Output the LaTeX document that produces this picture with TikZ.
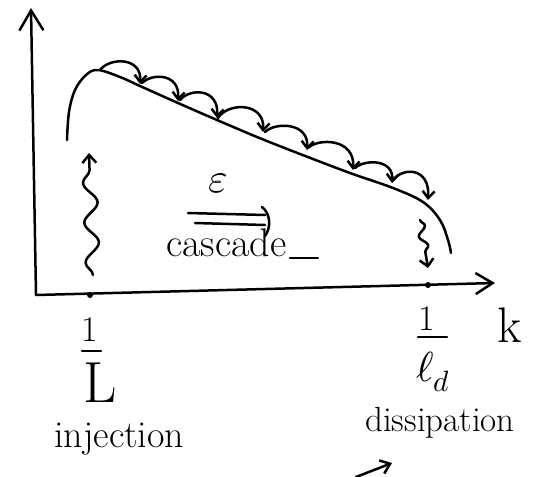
\documentclass[tikz,border=0pt]{standalone}
\usepackage{fontspec}
\usepackage{unicode-math}
\usetikzlibrary{arrows.meta,decorations.pathmorphing}
\begin{document}
\begin{tikzpicture}[x=1pt,y=-1pt,line width=2.5pt,line cap=round,line join=round,
  barb/.style={-{Straight Barb[length=7pt,width=12pt]}},
  bigbarb/.style={-{Straight Barb[length=20pt,width=24pt]}},
  txt/.style={font=\fontsize{38}{44}\selectfont,inner sep=0pt},
  lbl/.style={inner sep=0pt},
  tick/.style={circle,fill=black,inner sep=0pt,minimum size=6pt}]
\useasboundingbox (0,0) rectangle (534,476);
% axes
\coordinate (O) at (36,295);
\coordinate (Yt) at (31,8);
\coordinate (Xt) at (495,283);
\draw[bigbarb] (O) -- (Yt);
\draw[-{Straight Barb[length=17pt,width=21pt]}] (O) -- (Xt);
\node[tick] (t1) at (90,295) {};
\node[tick] (t2) at (428,285) {};
% spectrum curve
\draw plot[smooth,tension=0.6] coordinates {(67,140) (69,112) (75,90) (86,75) (98,70) (120,77) (140,86) (178,103) (217,120) (257,137) (300,154) (350,173) (393,188) (423,202) (440,220) (448,240) (451,253)};
% cascade hops
\foreach \ax/\ay/\bx/\by/\h in {100/70/140/84/57, 142/83/178/101/73, 180/100/217/118/88, 218/118/263/132/102, 265/132/307/150/122, 308/148/353/170/138, 355/168/392/183/159, 393/180/428/200/167}{
  \coordinate (a) at (\ax,\ay);
  \coordinate (b) at (\bx,\by);
  \draw[barb] (a) .. controls (\ax+10,\h) and (\bx+2,\h) .. (b);
}
% injection wavy arrow
\coordinate (i1) at (93,275);
\coordinate (i2) at (89,153);
\draw[-{Straight Barb[length=8pt,width=14pt]},decorate,decoration={snake,amplitude=7pt,segment length=40pt,post length=8pt}] (i1) -- (i2);
% dissipation wavy arrow
\coordinate (d1) at (420,220);
\coordinate (d2) at (428,268);
\draw[-{Straight Barb[length=7pt,width=14pt]},decorate,decoration={snake,amplitude=4pt,segment length=20pt,post length=7pt}] (d1) -- (d2);
% epsilon and double arrow
\node[lbl,font=\fontsize{42}{48}\selectfont] (eps) at (218,183) {$\varepsilon$};
\coordinate (e1) at (188,213); \coordinate (e2) at (265,215);
\coordinate (e3) at (195,223); \coordinate (e4) at (265,225);
\coordinate (h1) at (262,207); \coordinate (h2) at (265,236);
\draw (e1) -- (e2);
\draw (e3) -- (e4);
\draw (h1) .. controls (271,214) and (271,228) .. (h2);
% cascade label
\node[txt,anchor=base west,font=\fontsize{40}{46}\selectfont] (cas) at (165,256) {cascade};
\coordinate (c2) at (318,258);
\draw[line width=2pt] (cas.base east) ++(2,2) -- (c2);
% 1/L
\node[lbl,font=\fontsize{36}{40}\selectfont] (oneL) at (90,330) {1};
\coordinate (bL1) at (82,351); \coordinate (bL2) at (101,351);
\draw (bL1) -- (bL2);
\node[lbl,font=\fontsize{58}{62}\selectfont] (L) at (100,383) {L};
% 1/l_d
\node[lbl,font=\fontsize{36}{40}\selectfont] (oneld) at (427,319) {1};
\coordinate (bd1) at (418,337); \coordinate (bd2) at (447,337);
\draw (bd1) -- (bd2);
\node[lbl,font=\fontsize{42}{48}\selectfont] (ld) at (433,372) {$\ell_d$};
% k
\node[lbl,font=\fontsize{50}{56}\selectfont] (k) at (510,325) {k};
% texts
\node[txt,anchor=base west] (inj) at (53,447) {injection};
\node[txt,anchor=base west,font=\fontsize{35}{40}\selectfont] (dis) at (364,431) {dissipation};
% bottom arrow
\coordinate (s1) at (356,477);
\coordinate (s2) at (392,463);
\draw[-{Straight Barb[length=9pt,width=14pt]}] (s1) -- (s2);
\end{tikzpicture}
\end{document}
